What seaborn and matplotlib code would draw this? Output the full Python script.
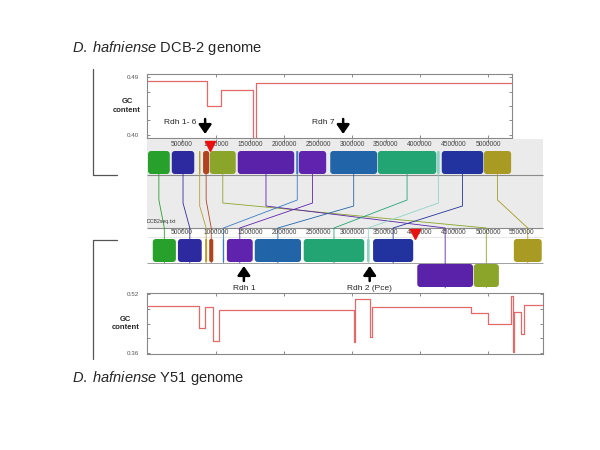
import numpy as np
import pandas as pd
import seaborn as sns
import matplotlib.pyplot as plt
from matplotlib.patches import FancyBboxPatch, Rectangle

# GC content step profiles (genome position in Mb, GC fraction)
dcb2_gc_pos = [0.0, 0.868, 1.074, 1.544, 1.588, 5.35]
dcb2_gc_val = [0.484, 0.445, 0.470, 0.390, 0.481, 0.481]
y51_gc_pos = [0.0, 0.754, 0.838, 0.96, 1.044, 3.034, 3.045, 3.26, 3.30,
              4.75, 4.995, 5.34, 5.37, 5.385, 5.49, 5.53, 5.81]
y51_gc_val = [0.4875, 0.427, 0.484, 0.393, 0.477, 0.391, 0.5056, 0.404, 0.484,
              0.468, 0.44, 0.515, 0.364, 0.470, 0.411, 0.49, 0.49]

# LCBs: colour, DCB-2 start/end (Mb), Y51 start/end (Mb), inverted in Y51
lcb_colors = ["#27a02c", "#2d2aa0", "#b3a033", "#b0441e", "#8aa52a", "#5a22a8",
              "#3a7cc4", "#5f23ad", "#2264a8", "#22a572", "#8fd3c4", "#2233a0", "#a89a22"]
dcb2_start = [0.00, 0.35, 0.75, 0.81, 0.91, 1.32, 2.18, 2.22, 2.68, 3.38, 4.25, 4.32, 4.94]
dcb2_end = [0.32, 0.68, 0.77, 0.90, 1.29, 2.15, 2.21, 2.62, 3.37, 4.24, 4.29, 4.93, 5.34]
y51_start = [0.07, 0.44, 0.84, 0.90, 4.79, 3.96, 1.10, 1.16, 1.57, 2.29, 3.22, 3.31, 5.38]
y51_end = [0.41, 0.79, 0.87, 0.96, 5.16, 4.78, 1.12, 1.54, 2.25, 3.18, 3.26, 3.90, 5.79]
y51_inverted = [False, False, False, False, True, True, False, False, False, False, False, False, False]

dcb2_ticks = [500000, 1000000, 1500000, 2000000, 2500000, 3000000, 3500000,
              4000000, 4500000, 5000000]
y51_ticks = dcb2_ticks + [5500000]

rdh_dcb2_pos = [0.84, 2.87]
rdh_dcb2_lab = ["Rdh 1- 6", "Rdh 7"]
rdh_y51_pos = [1.41, 3.26]
rdh_y51_lab = ["Rdh 1", "Rdh 2 (Pce)"]
origin_dcb2 = 0.91
origin_y51 = 3.93

sns.set_theme(style="white")
plt.rcParams["font.family"] = ["Liberation Sans", "DejaVu Sans"]
plt.rcParams["mathtext.fontset"] = "custom"
plt.rcParams["mathtext.it"] = "Liberation Sans:italic"
plt.rcParams["mathtext.rm"] = "Liberation Sans"

W, H = 600, 450
fig = plt.figure(figsize=(6, 4.5), dpi=100)


def px_axes(x0, y0, x1, y1):
    return fig.add_axes([x0 / W, 1 - y1 / H, (x1 - x0) / W, (y1 - y0) / H])


PX0, PPM = 148, 68.0  # pixel of genome position 0, pixels per Mb


def mb(px):
    return (px - PX0) / PPM


line_c = "#e36a6a"


def gc_panel(x0, y0, x1, y1, pos, val, ylim, yt, ylab):
    ax = px_axes(x0, y0, x1, y1)
    df = pd.DataFrame({"pos": pos, "gc": val})
    sns.lineplot(data=df, x="pos", y="gc", ax=ax, sort=False, estimator=None,
                 drawstyle="steps-post", color=line_c, lw=0.9, legend=False)
    ax.set_xlim(mb(x0), mb(x1))
    ax.set_ylim(*ylim)
    ax.set_xticks([1, 2, 3, 4, 5])
    ax.set_xticklabels([])
    ax.set_yticks(yt)
    ax.set_yticklabels([f"{yt[0]:.2f}"] + [""] * (len(yt) - 2) + [f"{yt[-1]:.2f}"])
    ax.tick_params(direction="in", length=2.5, width=0.6, colors="#777",
                   labelcolor="#555", labelsize=4.5, pad=6,
                   top=True, right=True, left=True, bottom=True)
    ax.set_xlabel("")
    ax.set_ylabel("")
    for s in ax.spines.values():
        s.set_color("#888")
        s.set_linewidth(0.8)
    ax.set_facecolor("none")
    ax.text(-0.055, 0.5, ylab, transform=ax.transAxes, ha="center", va="center",
            fontsize=5.5, fontweight="bold", linespacing=1.3)
    return ax


gc_panel(147, 74, 512, 138, dcb2_gc_pos, dcb2_gc_val, (0.3953, 0.4947),
         [0.40, 0.4225, 0.445, 0.4675, 0.49], "GC\ncontent")
gc_panel(147, 293, 543, 354, y51_gc_pos, y51_gc_val, (0.3573, 0.5227),
         [0.36, 0.40, 0.44, 0.48, 0.52], "GC\ncontent")

# genome map axes: x in Mb, y in pixel rows
ax = px_axes(100, 60, 560, 400)
ax.set_xlim(mb(100), mb(560))
ax.set_ylim(400, 60)
ax.axis("off")
ax.set_facecolor("none")

gx0, gx1 = mb(147), mb(543)
ax.add_patch(Rectangle((gx0, 139), gx1 - gx0, 89, color="#ebebeb", lw=0, zorder=0))
ax.hlines([175, 228], gx0, gx1, color="#8a8a8a", lw=0.8, zorder=1)
ax.hlines([263], gx0, gx1, color="#a0a0a0", lw=0.7, zorder=1)
ax.hlines([237], gx0, gx1, color="#dddddd", lw=0.5, zorder=1)

# ruler labels
for t in dcb2_ticks:
    ax.text(t / 1e6, 144.5, str(t), ha="center", va="center", fontsize=4.8, color="#444")
    ax.vlines(t / 1e6, 139, 143, color="#666", lw=0.5)
for t in y51_ticks:
    ax.text(t / 1e6, 232.5, str(t), ha="center", va="center", fontsize=4.8, color="#444")
    ax.vlines(t / 1e6, 228, 231, color="#666", lw=0.5)
ax.text(gx0, 222, "DCB2seq.txt", ha="left", va="center", fontsize=3.8, color="#333")

# connecting lines
for i, c in enumerate(lcb_colors):
    tx = (dcb2_start[i] + dcb2_end[i]) / 2
    bx = (y51_start[i] + y51_end[i]) / 2
    ybot = 288 if y51_inverted[i] else 263
    bend = 200 + (i % 3) * 3
    ax.plot([tx, tx, bx, bx], [152, bend, 228, ybot], color=c, lw=0.6, zorder=2)


def block(x0, x1, y0, y1, c):
    w = x1 - x0
    rs = min(0.045, 0.4 * w)
    p = FancyBboxPatch((x0, y0), w, y1 - y0,
                       boxstyle=f"round,pad=0,rounding_size={rs}",
                       mutation_aspect=PPM, fc=c, ec="none", zorder=3)
    ax.add_patch(p)


for i, c in enumerate(lcb_colors):
    block(dcb2_start[i], dcb2_end[i], 151, 174, c)
    if y51_inverted[i]:
        block(y51_start[i], y51_end[i], 264, 287, c)
    else:
        block(y51_start[i], y51_end[i], 239, 262, c)

# origin markers
ax.plot([origin_dcb2], [146], marker="v", ms=7.5, color="#e8110f", zorder=5)
ax.plot([origin_y51], [234], marker="v", ms=7.5, color="#e8110f", zorder=5)

# Rdh arrows
aprops = dict(arrowstyle="-|>,head_length=0.55,head_width=0.38", lw=1.8,
              color="black", mutation_scale=10, shrinkA=0, shrinkB=0)
for x, lab in zip(rdh_dcb2_pos, rdh_dcb2_lab):
    ax.annotate("", xy=(x, 134), xytext=(x, 119), arrowprops=aprops, zorder=6)
    ax.annotate(lab, xy=(x, 123), xytext=(-6, 0), textcoords="offset points",
                ha="right", va="center", fontsize=6, zorder=6)
for x, lab in zip(rdh_y51_pos, rdh_y51_lab):
    ax.annotate("", xy=(x, 266), xytext=(x, 281), arrowprops=aprops, zorder=6)
    ax.text(x, 288.5, lab, ha="center", va="center", fontsize=6, zorder=6)

# overlay for brackets and titles
ov = fig.add_axes([0, 0, 1, 1])
ov.set_xlim(0, W)
ov.set_ylim(H, 0)
ov.axis("off")
ov.set_facecolor("none")
ov.plot([92.5, 92.5, 117], [69, 175, 175], color="#555", lw=0.9)
ov.plot([117, 92.5, 92.5], [240, 240, 359], color="#555", lw=0.9)
ov.text(72, 52, r"$\it{D.\;hafniense}$ DCB-2 genome", fontsize=10.5, va="baseline")
ov.text(72, 382, r"$\it{D.\;hafniense}$ Y51 genome", fontsize=10.5, va="baseline")

fig.savefig("out.png", dpi=100)
